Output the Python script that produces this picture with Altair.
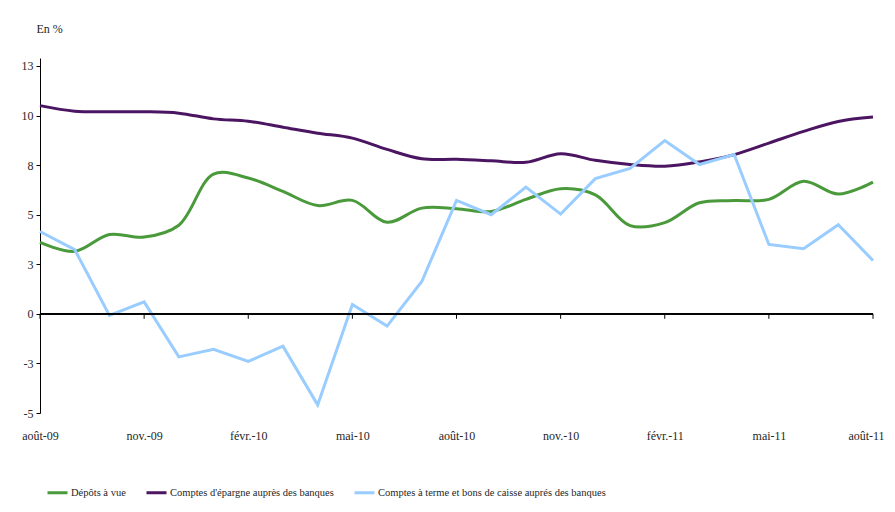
import altair as alt
import pandas as pd

months = ["août-09", "sept.-09", "oct.-09", "nov.-09", "déc.-09", "janv.-10", "févr.-10",
          "mars-10", "avr.-10", "mai-10", "juin-10", "juil.-10", "août-10", "sept.-10",
          "oct.-10", "nov.-10", "déc.-10", "janv.-11", "févr.-11", "mars-11", "avr.-11",
          "mai-11", "juin-11", "juil.-11", "août-11"]

depots_vue = [3.6, 3.15, 4.0, 3.87, 4.47, 7.05, 6.85, 6.17, 5.46, 5.72, 4.62, 5.33, 5.30,
              5.16, 5.77, 6.31, 6.0, 4.45, 4.6, 5.6, 5.71, 5.77, 6.68, 6.04, 6.64]
comptes_epargne = [10.5, 10.22, 10.19, 10.19, 10.12, 9.83, 9.71, 9.41, 9.11, 8.86, 8.29,
                   7.82, 7.79, 7.72, 7.64, 8.07, 7.74, 7.53, 7.44, 7.66, 8.03, 8.61, 9.2,
                   9.7, 9.92]
comptes_terme = [4.15, 3.24, -0.08, 0.6, -2.17, -1.79, -2.4, -1.63, -4.59, 0.47, -0.62,
                 1.63, 5.72, 5.0, 6.39, 5.03, 6.82, 7.33, 8.74, 7.53, 8.03, 3.5, 3.28,
                 4.49, 2.69]

series_names = ["Dépôts à vue",
                "Comptes d'épargne auprès des banques",
                "Comptes à terme et bons de caisse auprés des banques"]
series_colors = ["#4a9a3c", "#4b1561", "#99ccff"]

y_tick_values = [-5, -2.5, 0, 2.5, 5, 7.5, 10, 12.5]
y_tick_labels = ["-5", "-3", "0", "3", "5", "8", "10", "13"]
x_tick_labels = ["août-09", "nov.-09", "févr.-10", "mai-10", "août-10", "nov.-10",
                 "févr.-11", "mai-11", "août-11"]

rows = []
for name, vals in zip(series_names, [depots_vue, comptes_epargne, comptes_terme]):
    for m, v in zip(months, vals):
        rows.append({"mois": m, "valeur": v, "serie": name})
df = pd.DataFrame(rows)
ticks_df = pd.DataFrame({"mois": x_tick_labels})

FONT = "Liberation Serif, Times New Roman, serif"
TXT = "#262626"

label_expr = " : ".join(
    [f"datum.value == {v} ? '{l}'" for v, l in zip(y_tick_values, y_tick_labels)]
) + " : ''"

last_label = x_tick_labels[-1]
x_scale = alt.Scale(type="point", padding=0)
x_enc = alt.X("mois:O", sort=months, scale=x_scale,
              axis=alt.Axis(values=x_tick_labels, labelAngle=0, labelAlign="center",
                            labelOffset={"condition": {"test": f"datum.value == '{last_label}'",
                                                       "value": -7},
                                         "value": 0},
                            domain=False, ticks=False, labelPadding=17, labelFont=FONT,
                            labelFontSize=12, labelColor=TXT, title=None,
                            labelFlush=False, labelOverlap=False))
y_scale = alt.Scale(domain=[-5, 12.9], nice=False, zero=False)
y_enc = alt.Y("valeur:Q", scale=y_scale,
              axis=alt.Axis(values=y_tick_values, labelExpr=label_expr, grid=False,
                            domainColor="black", tickColor="black", tickSize=4,
                            labelPadding=3, labelFont=FONT, labelFontSize=12,
                            labelColor=TXT, title="En %", titleAngle=0, titleAlign="left",
                            titleBaseline="alphabetic", titleX=-4, titleY=-26,
                            titleFont=FONT, titleFontSize=12, titleFontWeight="normal",
                            titleColor=TXT))
color_enc = alt.Color("serie:N",
                      scale=alt.Scale(domain=series_names, range=series_colors),
                      legend=alt.Legend(title=None, orient="none", direction="horizontal",
                                        legendX=6, legendY=423, symbolType="stroke",
                                        symbolStrokeWidth=3, symbolSize=400,
                                        labelFont=FONT, labelFontSize=10.5, labelColor=TXT,
                                        columnPadding=14, labelOffset=2,
                                        labelLimit=400))

base = alt.Chart(df)

smooth = base.transform_filter(
    alt.FieldOneOfPredicate(field="serie", oneOf=series_names[:2])
).mark_line(interpolate="catmull-rom", strokeWidth=3).encode(
    x=x_enc, y=y_enc, color=color_enc)

terme = base.transform_filter(
    alt.FieldEqualPredicate(field="serie", equal=series_names[2])
).mark_line(interpolate="linear", strokeWidth=3).encode(
    x=x_enc, y=y_enc, color=color_enc)

zero_line = alt.Chart(ticks_df).mark_rule(color="black", strokeWidth=1).encode(
    y=alt.datum(0))

x_ticks = alt.Chart(ticks_df).mark_rule(color="black", strokeWidth=1).encode(
    x=x_enc, y=alt.datum(0), y2=alt.datum(-0.25))

chart = alt.layer(smooth, terme, zero_line, x_ticks).properties(
    width=833, height=355,
    autosize=alt.AutoSizeParams(type="none"),
    padding={"left": 32, "top": 50, "right": 14, "bottom": 90},
).configure(background="white").configure_view(stroke="transparent")

chart.save("out.html", embed_options={"renderer": "svg", "actions": False})
